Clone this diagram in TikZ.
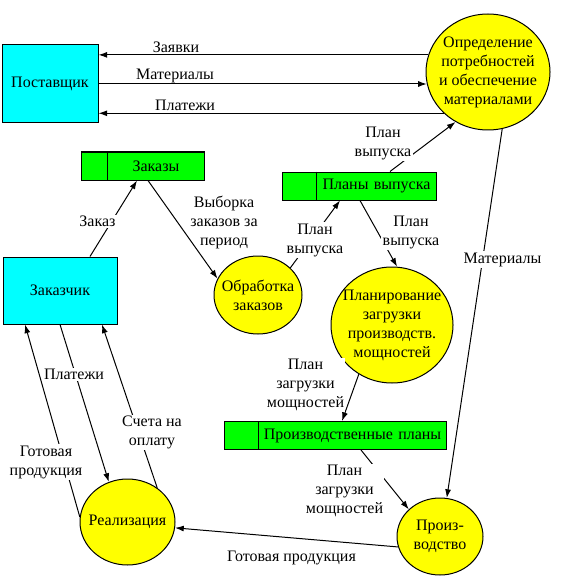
\documentclass[tikz,border=0pt]{standalone}
\usepackage{fontspec}
\setmainfont{Liberation Serif}
\usetikzlibrary{arrows.meta}
\usetikzlibrary{shapes.geometric}
\usetikzlibrary{calc}

\definecolor{extcyan}{RGB}{0,255,255}
\definecolor{procyellow}{RGB}{255,255,0}
\definecolor{storegreen}{RGB}{0,255,0}

\begin{document}
\begin{tikzpicture}[x=0.75pt, y=-0.75pt, line width=0.75pt, >={Latex[length=6.5pt,width=4.5pt]},
    font=\fontsize{12}{14.25}\selectfont]
    \tikzstyle{ext} = [draw, rectangle, fill=extcyan, align=center, inner sep=0pt];
    \tikzstyle{proc} = [draw, ellipse, fill=procyellow, align=center, inner sep=-5pt];
    \tikzstyle{store} = [draw, rectangle, fill=storegreen, align=center, inner sep=0pt, minimum height=21pt];
    \tikzstyle{lbl} = [fill=white, align=center, inner sep=1pt];
    \useasboundingbox (0,0) rectangle (567,581);

    \node [ext, minimum width=72pt, minimum height=58.5pt] (post) at (50,84) {Поставщик};
    \node [proc, minimum width=93pt, minimum height=87pt] (opr) at (488,72) {Определение\\потребностей\\и обеспечение\\материалами};
    \node [store, text width=92.25pt] (zakazy) at (142.5,166) {\hspace*{20.25pt}Заказы};
    \node [store, text width=115.5pt] (planvyp) at (359,186) {\hspace*{26.25pt}Планы выпуска};
    \node [ext, minimum width=85.5pt, minimum height=50.25pt] (zk) at (60,290.5) {Заказчик};
    \node [proc, minimum width=66pt, minimum height=58.5pt] (obr) at (258,295) {Обработка\\заказов};
    \node [proc, minimum width=91.5pt, minimum height=87pt] (plan) at (392,325) {Планирование\\загрузки\\производств.\\мощностей};
    \node [store, text width=166.5pt] (prplany) at (335,435.5) {\hspace*{26.25pt}Производственные планы};
    \node [proc, minimum width=64.5pt, minimum height=57.75pt] (proizv) at (440,536.5) {Произ-\\водство};
    \node [proc, minimum width=71.25pt, minimum height=64.5pt] (real) at (127.5,522) {Реализация};

    % store dividers
    \draw ($(zakazy.north west)+(27,0)$) -- ($(zakazy.south west)+(27,0)$);
    \draw ($(planvyp.north west)+(35,0)$) -- ($(planvyp.south west)+(35,0)$);
    \draw ($(prplany.north west)+(35,0)$) -- ($(prplany.south west)+(35,0)$);

    \draw [->] (opr.164) -- (opr.164 -| post.east);
    \draw [->] (post.east) -- (post.east -| opr.191);
    \draw [->] (opr.223) -- (opr.223 -| post.east);
    \draw [->] ($(zk.north)+(30,0)$) -- ($(zakazy.south)+(-5.5,0)$);
    \draw [->] ($(zakazy.south)+(5.5,0)$) -- (obr.158);
    \draw [->] (obr.40) -- ($(planvyp.south)+(-19,0)$);
    \draw [->] ($(planvyp.north)+(31,0)$) -- (opr.237);
    \draw [->] ($(planvyp.south)+(1,0)$) -- (plan.85);
    \draw [->] (opr.284) -- (proizv.80);
    \draw [->] (plan.236) -- ($(prplany.north)+(7,0)$);
    \draw [->] ($(prplany.south)+(26,0)$) -- (proizv.139);
    \draw [->] (proizv.194) -- (real.353);
    \draw [->] (real.174) -- ($(zk.south)+(-35,0)$);
    \draw [->] (zk.south) -- (real.115);
    \draw [->] (real.49) -- ($(zk.south)+(42,0)$);

    % flow labels
    \node [lbl, fill=none] (lzayavki) at (176,47.5) {Заявки};
    \node [lbl, fill=none] (lmater) at (175,76) {Материалы};
    \node [lbl, fill=none] (lplatezhi) at (185,105) {Платежи};
    \node [lbl] (lzakaz) at (97.5,221.5) {Заказ};
    \node [lbl, fill=none] (lvyborka) at (224,222) {Выборка\\заказов за\\период};
    \node [lbl] (lplan1) at (315,240) {План\\выпуска};
    \node [lbl] (lplan2) at (383,143) {План\\выпуска};
    \node [lbl] (lplan3) at (411,232) {План\\выпуска};
    \node [lbl] (lmat) at (502.5,259.5) {Материалы};
    \node [lbl] (lzagr1) at (305.5,385) {План\\загрузки\\мощностей};
    \node [lbl] (lzagr2) at (344.5,491) {План\\загрузки\\мощностей};
    \node [lbl, fill=none] (lgotov1) at (291.5,558) {Готовая продукция};
    \node [lbl] (lgotov2) at (46,462) {Готовая\\продукция};
    \node [lbl] (lplat) at (74,374.5) {Платежи};
    \node [lbl] (lscheta) at (152,432.5) {Счета на\\оплату};
\end{tikzpicture}
\end{document}
